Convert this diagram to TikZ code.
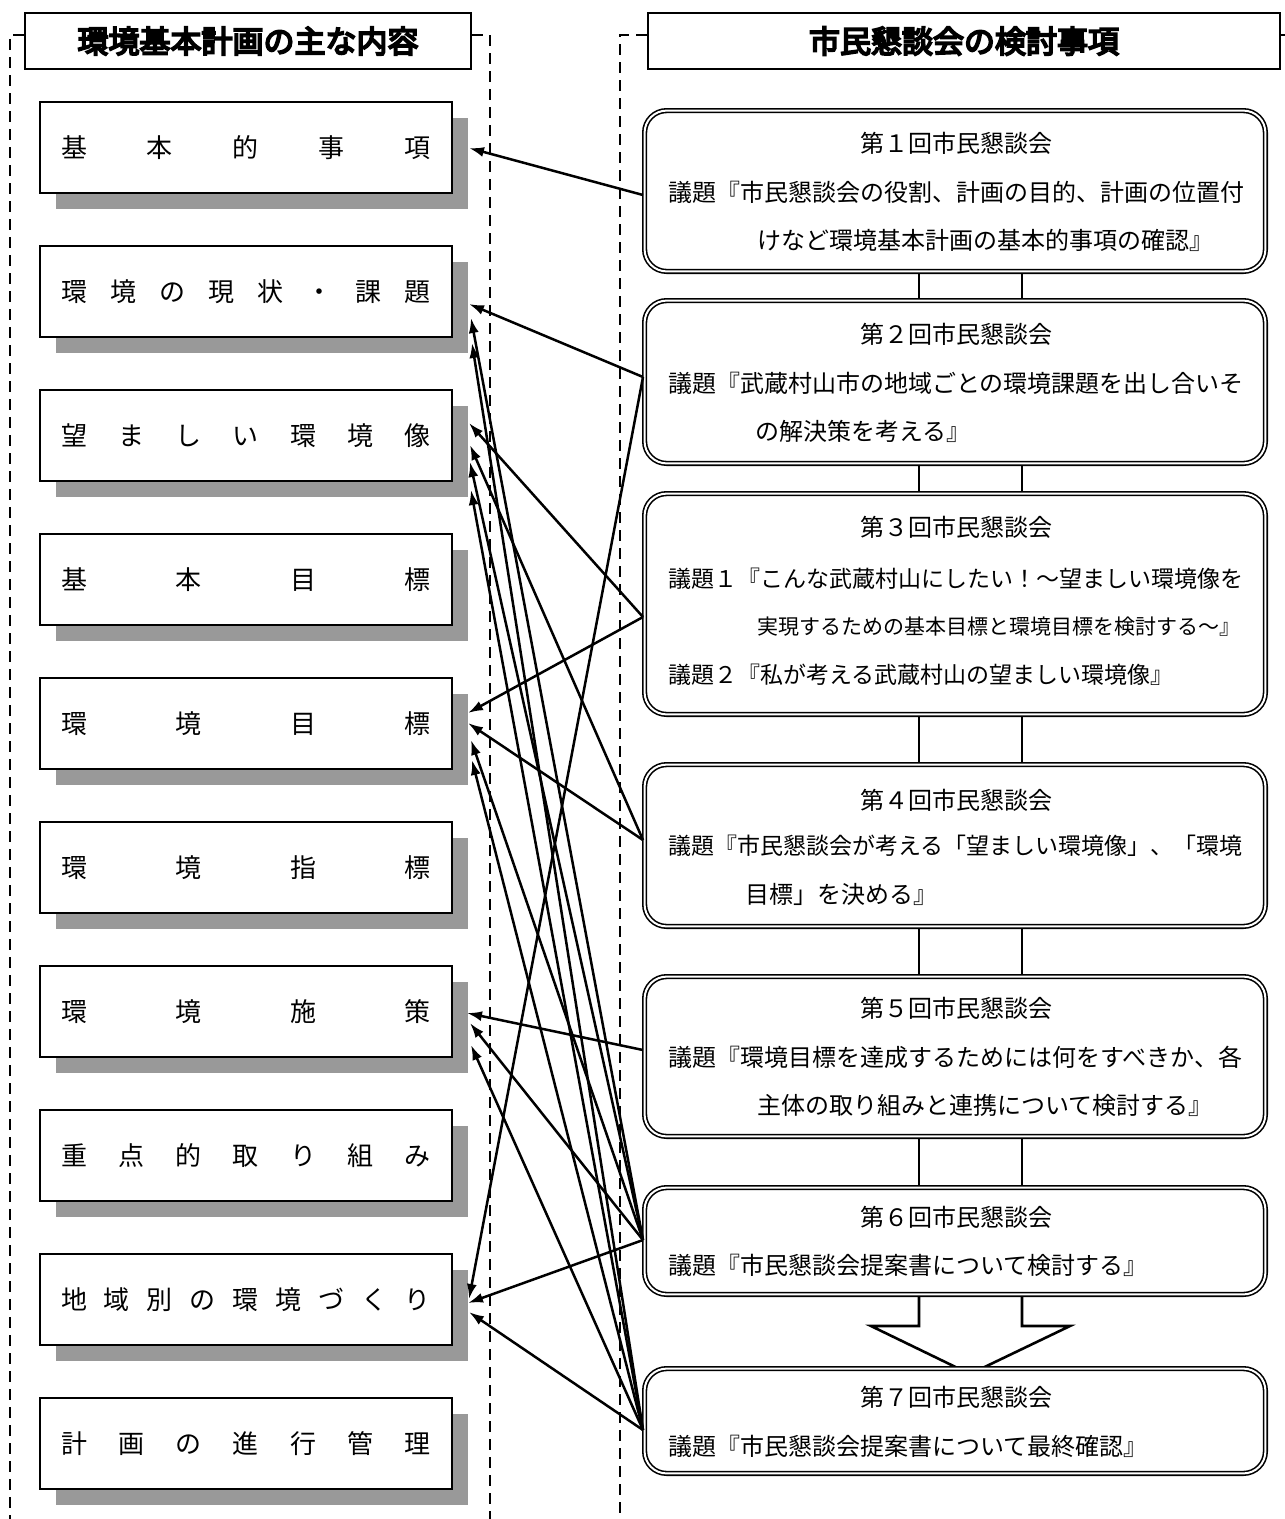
\documentclass[tikz,border=0pt]{standalone}
\usepackage{fontspec}
\usetikzlibrary{arrows.meta,calc}
\newfontfamily\jp{Noto Sans CJK JP}
\newfontfamily\jpb[FakeBold=6]{Noto Sans CJK JP}
\pgfdeclarelayer{bg}
\pgfsetlayers{bg,main}
\begin{document}
\begin{tikzpicture}[x=1pt,y=-1pt,
  lbox/.style={draw, line width=2.6pt, fill=white, minimum width=412pt, minimum height=91pt, inner sep=0pt, font=\jp\fontsize{26}{26}\selectfont},
  shade/.style={fill=black!40},
  hbox/.style={draw, line width=2.6pt, fill=white, minimum height=56pt, inner sep=0pt, font=\jpb\fontsize{31}{31}\selectfont},
  rbox/.style={draw, double, double distance=2pt, line width=1.6pt, rounded corners=22pt, fill=white, minimum width=620.8pt, inner sep=0pt},
  rtxt/.style={anchor=west, inner sep=0pt, font=\jp\fontsize{24}{24}\selectfont},
  rtitle/.style={inner sep=0pt, font=\jp\fontsize{24}{24}\selectfont},
  dsh/.style={line width=2.6pt, dash pattern=on 11pt off 7pt},
  link/.style={line width=2.2pt},
  arr/.style={line width=2.5pt, -{Latex[length=15pt,width=10pt]}},
  blockarr/.style={line width=2.6pt, fill=white, line join=miter}
]
\useasboundingbox (0,0) rectangle (1285,1519);

% ---------- headers ----------
\node[hbox, minimum width=446pt] (H1) at (248,41) {環境基本計画の主な内容};
\node[hbox, minimum width=632pt] (H2) at (964,41) {市民懇談会の検討事項};

% ---------- dashed frames ----------
\coordinate (fa) at (10,35);
\coordinate (fb) at (490,35);
\coordinate (fc) at (620,35);
\draw[dsh] (H1.west |- fa) -- (fa) -- (10,1519);
\draw[dsh] (H1.east |- fb) -- (fb) -- (490,1519);
\draw[dsh] (H2.west |- fc) -- (fc) -- (620,1519);
\draw[dsh] (H2.east |- fc) -- (1285,35);

% ---------- left boxes ----------
\foreach \i in {0,...,9}{
  \fill[shade] (56,{118+144*\i}) rectangle (468,{209+144*\i});
}
\node[lbox] (L1) at (246,147.5) {\makebox[370pt]{基\hfill 本\hfill 的\hfill 事\hfill 項}};
\node[lbox] (L2) at (246,291.5) {\makebox[370pt]{環\hfill 境\hfill の\hfill 現\hfill 状\hfill ・\hfill 課\hfill 題}};
\node[lbox] (L3) at (246,435.5) {\makebox[370pt]{望\hfill ま\hfill し\hfill い\hfill 環\hfill 境\hfill 像}};
\node[lbox] (L4) at (246,579.5) {\makebox[370pt]{基\hfill 本\hfill 目\hfill 標}};
\node[lbox] (L5) at (246,723.5) {\makebox[370pt]{環\hfill 境\hfill 目\hfill 標}};
\node[lbox] (L6) at (246,867.5) {\makebox[370pt]{環\hfill 境\hfill 指\hfill 標}};
\node[lbox] (L7) at (246,1011.5) {\makebox[370pt]{環\hfill 境\hfill 施\hfill 策}};
\node[lbox] (L8) at (246,1155.5) {\makebox[370pt]{重\hfill 点\hfill 的\hfill 取\hfill り\hfill 組\hfill み}};
\node[lbox] (L9) at (246,1299.5) {\makebox[370pt]{地\hfill 域\hfill 別\hfill の\hfill 環\hfill 境\hfill づ\hfill く\hfill り}};
\node[lbox] (L10) at (246,1443.5) {\makebox[370pt]{計\hfill 画\hfill の\hfill 進\hfill 行\hfill 管\hfill 理}};

% ---------- right boxes ----------
\node[rbox, minimum height=160.8pt] (R1) at (955,191) {};
\node[rbox, minimum height=162.8pt] (R2) at (955,382) {};
\node[rbox, minimum height=220.8pt] (R3) at (955,604) {};
\node[rbox, minimum height=161.8pt] (R4) at (955,845.5) {};
\node[rbox, minimum height=159.8pt] (R5) at (955,1056.5) {};
\node[rbox, minimum height=106.8pt] (R6) at (955,1241) {};
\node[rbox, minimum height=104.8pt] (R7) at (955,1421) {};

% links between right boxes (behind boxes)
\coordinate (xa) at (919,0);
\coordinate (xb) at (1022,0);
\begin{pgfonlayer}{bg}
\foreach \a/\b in {R1/R2,R2/R3,R3/R4,R4/R5,R5/R6}{
  \draw[link] (\a.south -| xa) -- (\b.north -| xa);
  \draw[link] (\a.south -| xb) -- (\b.north -| xb);
}
\draw[blockarr] (R6.south -| xa) -- (919,1326) -- (871,1326) -- (970,1374) -- (1070,1326) -- (1022,1326) -- (R6.south -| xb);
\end{pgfonlayer}

% right texts
\node[rtitle] (R1t) at (956,143) {第１回市民懇談会};
\node[rtxt] (R1a) at (668,192) {議題『市民懇談会の役割、計画の目的、計画の位置付};
\node[rtxt] (R1b) at (757,240) {けなど環境基本計画の基本的事項の確認』};

\node[rtitle] (R2t) at (956,334) {第２回市民懇談会};
\node[rtxt] (R2a) at (668,383) {議題『武蔵村山市の地域ごとの環境課題を出し合いそ};
\node[rtxt] (R2b) at (755,431) {の解決策を考える』};

\node[rtitle] (R3t) at (956,527) {第３回市民懇談会};
\node[rtxt, font=\jp\fontsize{23}{23}\selectfont] (R3a) at (668,579) {議題１『こんな武蔵村山にしたい！～望ましい環境像を};
\node[rtxt, font=\jp\fontsize{21}{21}\selectfont] (R3b) at (757,627) {実現するための基本目標と環境目標を検討する～』};
\node[rtxt, font=\jp\fontsize{23}{23}\selectfont] (R3c) at (668,675) {議題２『私が考える武蔵村山の望ましい環境像』};

\node[rtitle] (R4t) at (956,800) {第４回市民懇談会};
\node[rtxt, font=\jp\fontsize{23}{23}\selectfont] (R4a) at (668,846) {議題『市民懇談会が考える「望ましい環境像」、「環境};
\node[rtxt] (R4b) at (745,894) {目標」を決める』};

\node[rtitle] (R5t) at (956,1008) {第５回市民懇談会};
\node[rtxt] (R5a) at (668,1057) {議題『環境目標を達成するためには何をすべきか、各};
\node[rtxt] (R5b) at (757,1105) {主体の取り組みと連携について検討する』};

\node[rtitle] (R6t) at (956,1217) {第６回市民懇談会};
\node[rtxt] (R6a) at (668,1265) {議題『市民懇談会提案書について検討する』};

\node[rtitle] (R7t) at (956,1397) {第７回市民懇談会};
\node[rtxt] (R7a) at (668,1446) {議題『市民懇談会提案書について最終確認』};

% ---------- arrows ----------
\coordinate (p1) at (643,195);
\coordinate (p2) at (643,377);
\coordinate (p3) at (643,617);
\coordinate (p4) at (643,840);
\coordinate (p5) at (643,1050);
\coordinate (p6) at (643,1240);
\coordinate (p7) at (643,1430);

\coordinate (t1) at (469,148);
\coordinate (t2a) at (469,304);
\coordinate (t2b) at (471,318);
\coordinate (t2c) at (472,343);
\coordinate (t3a) at (469,423);
\coordinate (t3b) at (470,445);
\coordinate (t3c) at (470,462);
\coordinate (t3d) at (471,490);
\coordinate (t5a) at (468,713);
\coordinate (t5b) at (468,723);
\coordinate (t5c) at (471,740);
\coordinate (t5d) at (472,760);
\coordinate (t7a) at (467,1013);
\coordinate (t7b) at (470,1023);
\coordinate (t7c) at (471,1045);
\coordinate (t9a) at (469,1299);
\coordinate (t9b) at (468,1303);
\coordinate (t9c) at (469,1312);

\draw[arr] (p1) -- (t1);
\draw[arr] (p2) -- (t2a);
\draw[arr] (p2) -- (t9a);
\draw[arr] (p3) -- (t3a);
\draw[arr] (p3) -- (t5a);
\draw[arr] (p4) -- (t3b);
\draw[arr] (p4) -- (t5b);
\draw[arr] (p5) -- (t7a);
\draw[arr] (p6) -- (t2b);
\draw[arr] (p6) -- (t3c);
\draw[arr] (p6) -- (t5c);
\draw[arr] (p6) -- (t7b);
\draw[arr] (p6) -- (t9b);
\draw[arr] (p7) -- (t2c);
\draw[arr] (p7) -- (t3d);
\draw[arr] (p7) -- (t5d);
\draw[arr] (p7) -- (t7c);
\draw[arr] (p7) -- (t9c);
\end{tikzpicture}
\end{document}
